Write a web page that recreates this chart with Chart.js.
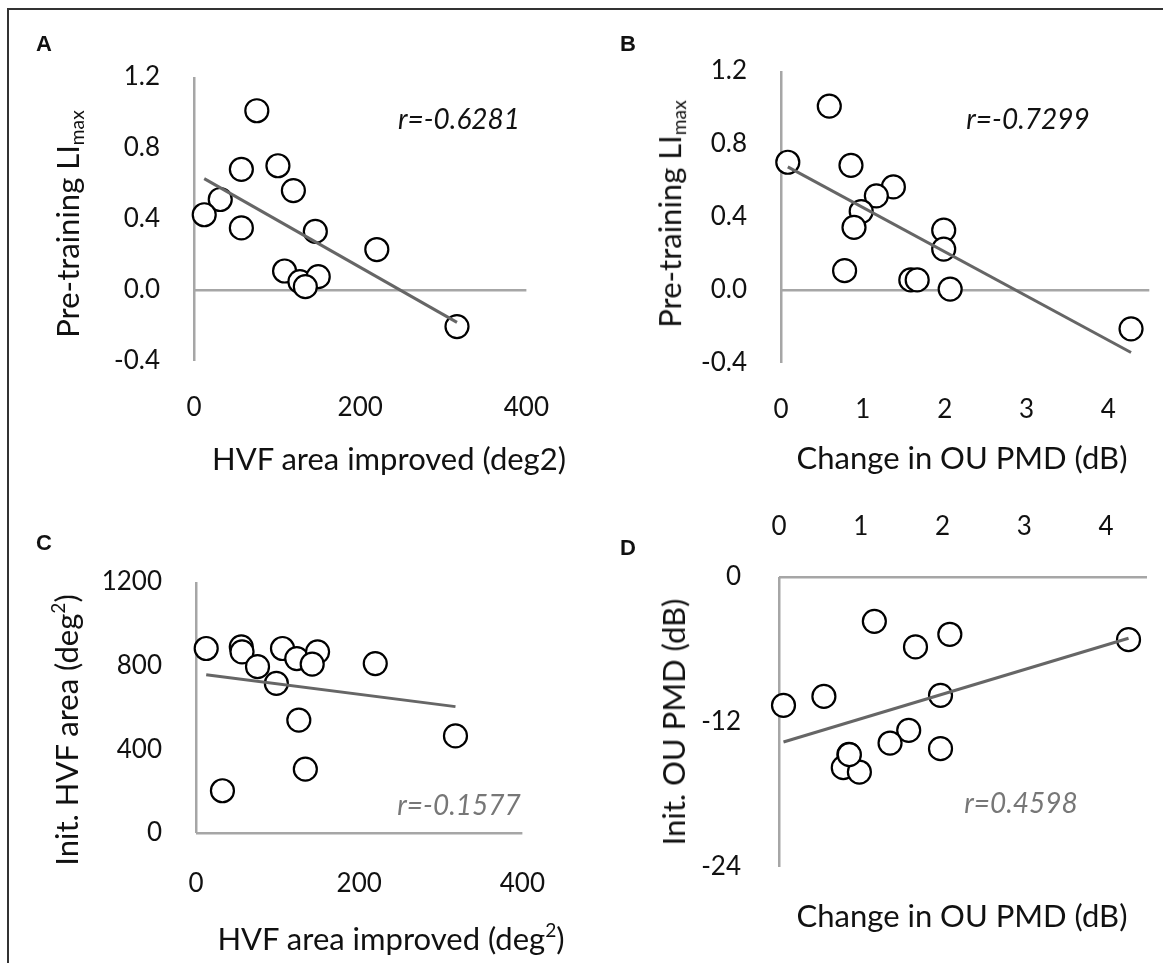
<!DOCTYPE html>
<html>
<head>
<meta charset="utf-8">
<script src="https://cdn.jsdelivr.net/npm/chart.js@4.4.1/dist/chart.umd.min.js"></script>
<style>
  html, body { margin: 0; padding: 0; background: #fff; }
  body { width: 1163px; height: 963px; position: relative; overflow: hidden; font-family: Lato, "Open Sans", sans-serif; color: #111; }
  canvas { position: absolute; }
  .frame { position: absolute; left: 7px; top: 8px; width: 1170px; height: 980px; border-top: 2px solid #333; border-left: 2px solid #333; box-sizing: border-box; }
  .lbl { position: absolute; transform: translate(-50%, -50%); white-space: nowrap; }
  .panel { font-family: Arial, "Liberation Sans", sans-serif; font-weight: bold; font-size: 22px; }
  .title { font-size: 31px; }
  .ytitle { transform: translate(-50%, -50%) rotate(-90deg); }
  .rlab { font-style: italic; font-size: 28px; }
  sub, sup { font-size: 62%; }
  sub { vertical-align: -0.25em; }
  sup { vertical-align: 0.7em; line-height: 0; }
</style>
</head>
<body>
<div class="frame"></div>
<canvas id="cA" width="580" height="480" style="left:0;top:0"></canvas>
<canvas id="cB" width="583" height="480" style="left:580px;top:0"></canvas>
<canvas id="cC" width="580" height="483" style="left:0;top:480px"></canvas>
<canvas id="cD" width="583" height="483" style="left:580px;top:480px"></canvas>

<div class="lbl panel" style="left:44px;top:44px">A</div>
<div class="lbl panel" style="left:628px;top:44px">B</div>
<div class="lbl panel" style="left:44px;top:543px">C</div>
<div class="lbl panel" style="left:628px;top:548px">D</div>

<div class="lbl title ytitle" style="left:68px;top:224px">Pre-training LI<sub>max</sub></div>
<div class="lbl title ytitle" style="left:670px;top:214px">Pre-training LI<sub>max</sub></div>
<div class="lbl title ytitle" style="left:66px;top:730px">Init. HVF area (deg<sup>2</sup>)</div>
<div class="lbl title ytitle" style="left:673px;top:722px">Init. OU PMD (dB)</div>

<div class="lbl title" style="left:389px;top:458px">HVF area improved (deg2)</div>
<div class="lbl title" style="left:962px;top:457px">Change in OU PMD (dB)</div>
<div class="lbl title" style="left:391px;top:938px">HVF area improved (deg<sup>2</sup>)</div>
<div class="lbl title" style="left:962px;top:915px">Change in OU PMD (dB)</div>

<div class="lbl rlab" style="left:459px;top:118px;color:#111">r=-0.6281</div>
<div class="lbl rlab" style="left:1028px;top:118px;color:#111">r=-0.7299</div>
<div class="lbl rlab" style="left:459px;top:804px;color:#777">r=-0.1577</div>
<div class="lbl rlab" style="left:1021px;top:802px;color:#777">r=0.4598</div>

<script>
// ---- Data ----
// Panel A: HVF area improved (deg2) vs pre-training LImax
const aX = [75.6, 57, 101, 31.6, 12.3, 57, 119.6, 146, 220, 109, 127.5, 149.5, 134, 316.5];
const aY = [1.01, 0.68, 0.70, 0.51, 0.424, 0.35, 0.56, 0.33, 0.228, 0.107, 0.047, 0.075, 0.019, -0.206];
// Panel B: change in OU PMD (dB) vs pre-training LImax
const bX = [0.59, 0.083, 0.855, 1.373, 1.165, 0.98, 0.892, 0.777, 1.988, 1.988, 1.586, 1.664, 2.067, 4.277];
const bY = [1.008, 0.70, 0.683, 0.565, 0.516, 0.430, 0.343, 0.106, 0.328, 0.224, 0.055, 0.055, 0.005, -0.213];
// Panel C: HVF area improved vs initial HVF area (deg2)
const cX = [12.5, 55.5, 56.4, 75.4, 106, 123.5, 149, 142.4, 219.7, 98.5, 126, 318, 134, 32.4];
const cY = [882, 890, 866, 795, 882, 834, 866, 807, 810, 715, 540, 464, 305, 202];
// Panel D: change in OU PMD vs initial OU PMD (dB)
const dX = [1.166, 2.089, 1.669, 4.274, 0.549, 0.055, 1.975, 1.586, 1.358, 1.975, 0.855, 0.786, 0.983, 0.86];
const dY = [-3.67, -4.74, -5.79, -5.19, -9.88, -10.62, -9.79, -12.69, -13.74, -14.21, -14.68, -15.78, -16.14, -14.7];

// Tick values and labels
const xTicksArea = [0, 200, 400];
const xTicksPMD = [0, 1, 2, 3, 4];
const yTicksLI = [-0.4, 0, 0.4, 0.8, 1.2];
const yTicksLILabels = ['-0.4', '0.0', '0.4', '0.8', '1.2'];
const yTicksArea = [0, 400, 800, 1200];
const yTicksPMD = [-24, -12, 0];

// ---- Helpers ----
function fit(xs, ys) {
  const n = xs.length;
  const mx = xs.reduce((s, v) => s + v, 0) / n;
  const my = ys.reduce((s, v) => s + v, 0) / n;
  let sxy = 0, sxx = 0;
  for (let i = 0; i < n; i++) { sxy += (xs[i] - mx) * (ys[i] - my); sxx += (xs[i] - mx) ** 2; }
  const b = sxy / sxx, a = my - b * mx;
  const x0 = Math.min(...xs), x1 = Math.max(...xs);
  return [{ x: x0, y: a + b * x0 }, { x: x1, y: a + b * x1 }];
}

const FONT = { family: 'Lato, "Open Sans", sans-serif', size: 26 };
const AXIS = '#a6a6a6';

function panel(id, xs, ys, o) {
  const pts = xs.map((x, i) => ({ x, y: ys[i] }));
  new Chart(document.getElementById(id), {
    type: 'scatter',
    data: {
      datasets: [
        { type: 'line', data: fit(xs, ys), borderColor: '#666', borderWidth: 3, pointRadius: 0, order: 0, clip: false },
        { data: pts, pointRadius: 11.5, pointBorderWidth: 2.2, pointBorderColor: '#000', pointBackgroundColor: '#fff', order: 1, clip: false }
      ]
    },
    options: {
      responsive: false, animation: false, devicePixelRatio: 1,
      layout: { padding: o.pad },
      plugins: { legend: { display: false }, tooltip: { enabled: false } },
      scales: {
        x: {
          type: 'linear', position: o.xPos || 'bottom', min: o.xMin, max: o.xMax,
          afterBuildTicks: s => { s.ticks = o.xTicks.map(v => ({ value: v })); },
          afterFit: s => { s.height = o.xH; },
          ticks: { autoSkip: false, maxRotation: 0, padding: o.xPadT, color: '#111', font: FONT, callback: v => String(v) },
          grid: { drawTicks: false, lineWidth: 2.5, color: c => (c.tick && c.tick.value === 0) ? AXIS : 'rgba(0,0,0,0)' },
          border: { display: false }
        },
        y: {
          type: 'linear', min: o.yMin, max: o.yMax,
          afterBuildTicks: s => { s.ticks = o.yTicks.map(v => ({ value: v })); },
          afterFit: s => { s.width = o.yW; },
          ticks: { autoSkip: false, padding: o.yPadT, color: '#111', font: FONT,
                   callback: (v, i) => o.yLabels ? o.yLabels[i] : String(v) },
          grid: { drawTicks: false, lineWidth: 2.5, color: c => (c.tick && c.tick.value === 0) ? AXIS : 'rgba(0,0,0,0)' },
          border: { display: false }
        }
      }
    }
  });
}

panel('cA', aX, aY, {
  pad: { left: 0, top: 77, right: 52, bottom: 0 }, yW: 194, xH: 119,
  xMin: 0, xMax: 400, xTicks: xTicksArea, xPadT: 31,
  yMin: -0.4, yMax: 1.2, yTicks: yTicksLI, yLabels: yTicksLILabels, yPadT: 34
});
panel('cB', bX, bY, {
  pad: { left: 0, top: 71, right: 13, bottom: 0 }, yW: 201, xH: 117,
  xMin: 0, xMax: 4.5, xTicks: xTicksPMD, xPadT: 31,
  yMin: -0.4, yMax: 1.2, yTicks: yTicksLI, yLabels: yTicksLILabels, yPadT: 34
});
panel('cC', cX, cY, {
  pad: { left: 0, top: 102, right: 56, bottom: 0 }, yW: 196, xH: 130,
  xMin: 0, xMax: 400, xTicks: xTicksArea, xPadT: 35,
  yMin: 0, yMax: 1200, yTicks: yTicksArea, yPadT: 34
});
panel('cD', dX, dY, {
  pad: { left: 0, top: 0, right: 16, bottom: 96 }, yW: 199, xH: 97, xPos: 'top',
  xMin: 0, xMax: 4.5, xTicks: xTicksPMD, xPadT: 35,
  yMin: -24, yMax: 0, yTicks: yTicksPMD, yPadT: 38
});
</script>
</body>
</html>
